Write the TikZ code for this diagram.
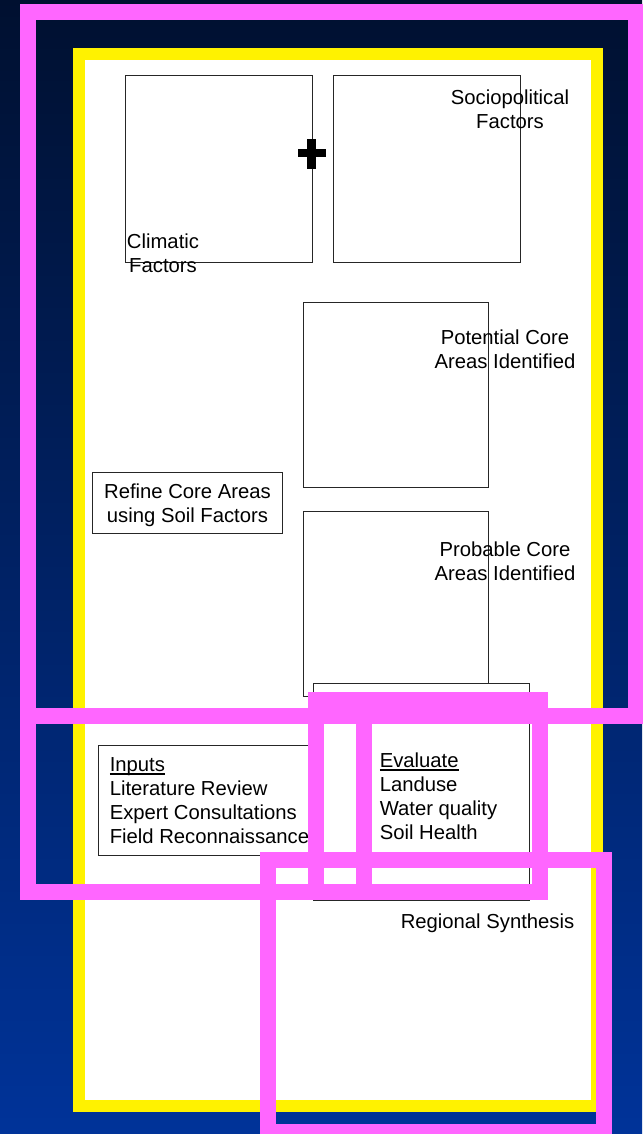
\documentclass[tikz,border=0pt]{standalone}
\usepackage{fontspec}
\setmainfont{Liberation Sans}
\definecolor{bleunuit}{RGB}{0,16,48}
\definecolor{bleufond}{RGB}{0,51,153}
\definecolor{rose}{RGB}{255,102,255}
\newlength\largeurmot
\newcommand\souligner[1]{\settowidth\largeurmot{#1}\rlap{\rule[-2.6pt]{\largeurmot}{1.5pt}}#1}
\tikzset{
	cadre/.style={draw=black!85,line width=0.75pt},
	texte/.style={inner sep=0pt,font=\fontsize{15.2}{18}\selectfont},
	bordrose/.style={draw=rose,line width=12pt},
}
\begin{document}
\begin{tikzpicture}[x=0.75pt,y=-0.75pt]
%					Fond degrade :
					\useasboundingbox (0,0) rectangle (642,1134);
					\shade[top color=bleunuit,bottom color=bleufond] (0,0) rectangle (642,1134);
%					Cadre jaune :
					\draw[yellow,line width=9pt,fill=white] (78.8,54) rectangle (596.6,1106);
%					Boites vides :
					\draw[cadre] (125.3,75.7) rectangle (312,262.3);
					\draw[cadre] (333.3,75.7) rectangle (520.3,262.3);
					\draw[cadre] (303,302.3) rectangle (488.8,487.3);
					\draw[cadre] (303,511.7) rectangle (488.8,696.7);
					\fill (297.7,149.3) rectangle (326,157.3);
					\fill (307.3,139.3) rectangle (315.7,168.7);
%					Textes (ancre sur la derniere ligne) :
					\node[texte,align=center,anchor=base] (climat) at (163,272.5) {Climatic\\Factors};
					\node[texte,align=center,anchor=base] (sociopol) at (510,128.5) {Sociopolitical\\Factors};
					\node[texte,align=center,anchor=base] (potentiel) at (505,368) {Potential Core\\Areas Identified};
					\node[texte,align=center,anchor=base] (probable) at (505,580) {Probable Core\\Areas Identified};
					\draw[cadre] (92.3,472.7) rectangle (282.7,533.3);
					\node[texte,align=center,anchor=base] (affiner) at (187.5,522.5) {Refine Core Areas\\using Soil Factors};
%					Entrees et evaluation :
					\draw[cadre] (98.3,745.7) rectangle (316,855.7);
					\node[texte,align=left,anchor=base west] (entrees) at (109.5,843.5) {\souligner{Inputs}\\Literature Review\\Expert Consultations\\Field Reconnaissance};
					\draw[cadre,fill=white] (313,683.3) rectangle (529.5,900);
					\node[texte,align=left,anchor=base west] (evaluer) at (379.5,839.5) {\souligner{Evaluate}\\Landuse\\Water quality\\Soil Health};
					\node[texte,anchor=base west] (synthese) at (400.5,928.8) {Regional Synthesis};
%					Cadres roses :
					\draw[bordrose] (28,12) rectangle (636,716);
					\draw[bordrose] (28,716) rectangle (364,892);
					\draw[bordrose] (316,700) rectangle (540,892);
					\draw[bordrose] (268,860) rectangle (604,1132);
\end{tikzpicture}
\end{document}
